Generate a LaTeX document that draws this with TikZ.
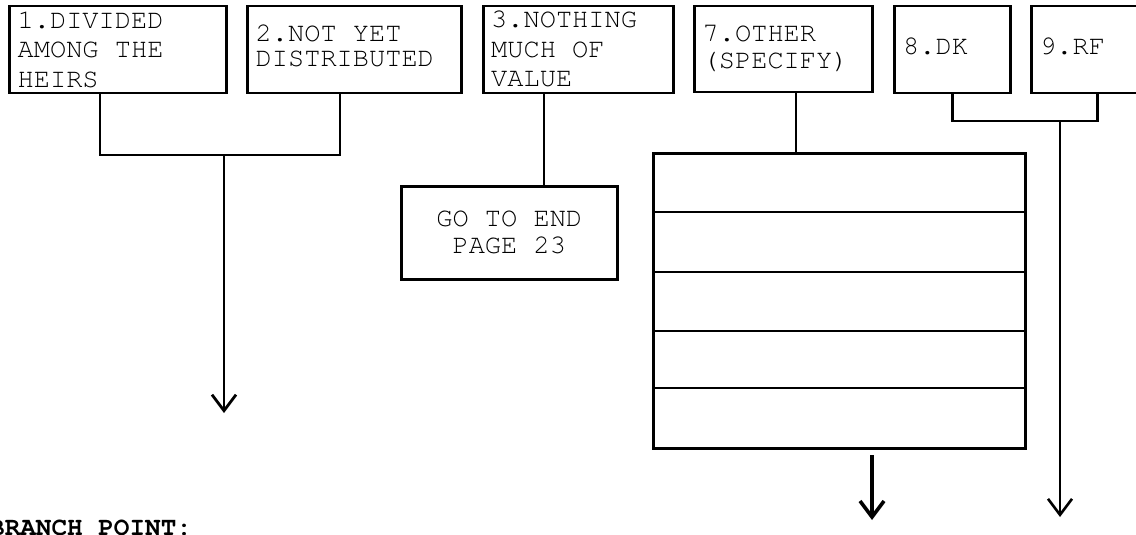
\documentclass[tikz,border=0pt]{standalone}
\usepackage{fontspec}
\setmonofont{TeX Gyre Cursor}
\usetikzlibrary{arrows.meta,calc}
\newcommand\mlines[2]{\vtop{\baselineskip=#1\lineskiplimit=-50pt\lineskip=0pt #2}}
\begin{document}
\begin{tikzpicture}[x=1pt,y=-1pt,
  box/.style={draw,line width=2.5pt,inner sep=0pt,anchor=north west},
  txt/.style={anchor=base west,inner sep=0pt,font=\ttfamily\fontsize{27}{29.5}\selectfont},
  conn/.style={line width=2.5pt},
  arr/.style={line width=2.8pt,-{Straight Barb[length=16pt,width=24pt]}}]
\useasboundingbox (0,0) rectangle (1136,535);
\clip (0,0) rectangle (1136,535);
% top boxes
\node[box,minimum width=217pt,minimum height=87pt] (b1) at (8,5) {};
\node[box,minimum width=214pt,minimum height=87pt] (b2) at (246,5) {};
\node[box,minimum width=190pt,minimum height=87pt] (b3) at (482,5) {};
\node[box,minimum width=178pt,minimum height=86pt] (b7) at (693,5) {};
\node[box,minimum width=116pt,minimum height=87pt] (b8) at (893,5) {};
\node[box,minimum width=132pt,minimum height=87pt] (b9) at (1030,5) {};
% texts
\node[txt] (t1) at (17.5,28.5) {\mlines{29.5pt}{\hbox{1.DIVIDED}\hbox{AMONG THE}\hbox{HEIRS}}};
\node[txt] (t2) at (255.5,41.7) {\mlines{25.3pt}{\hbox{2.NOT YET}\hbox{DISTRIBUTED}}};
\node[txt] (t3) at (491,28) {\mlines{29.5pt}{\hbox{3.NOTHING}\hbox{MUCH OF}\hbox{VALUE}}};
\node[txt] (t7) at (702.5,41.7) {\mlines{27pt}{\hbox{7.OTHER}\hbox{(SPECIFY)}}};
\node[txt] (t8) at (903,55) {8.DK};
\node[txt] (t9) at (1040,55) {9.RF};
% go to end
\node[box,minimum width=216pt,minimum height=93pt,align=center,
      font=\ttfamily\fontsize{27}{26.7}\selectfont] (go) at (400,185) {GO TO END\\PAGE 23};
% table
\node[box,minimum width=372pt,minimum height=295pt] (tbl) at (652,152) {};
\foreach \dy in {60,120,179,236}
  \draw[conn] ($(tbl.north west)+(0,\dy)$) -- ($(tbl.north east)+(0,\dy)$);
% connectors 1,2
\coordinate (j12) at (224,155);
\coordinate (e12) at (224,413);
\coordinate (c1) at ($(b1.south west)+(92,0)$);
\coordinate (c2) at ($(b2.south west)+(94,0)$);
\draw[conn] (c1) |- (j12) -| (c2);
\draw[arr] (j12) -- (e12);
% connector 3
\coordinate (c3) at ($(b3.south west)+(62,0)$);
\draw[conn] (c3) -- (go.north -| c3);
% connector 7
\coordinate (c7) at ($(b7.south west)+(103,0)$);
\draw[conn] (c7) -- (tbl.north -| c7);
\coordinate (s7) at (872,455);
\coordinate (e7) at (872,520);
\draw[arr,line width=3.6pt] (s7) -- (e7);
% connectors 8,9
\coordinate (j89) at (1060,121);
\coordinate (e89) at (1060,517);
\draw[conn] (b8.south) |- (j89) -| (b9.south);
\draw[arr,line width=2.6pt] (j89) -- (e89);
% branch point
\node[anchor=base west,inner sep=0pt,font=\ttfamily\bfseries\fontsize{26}{26}\selectfont] (bp) at (-11,535) {BRANCH POINT:};
\end{tikzpicture}
\end{document}
